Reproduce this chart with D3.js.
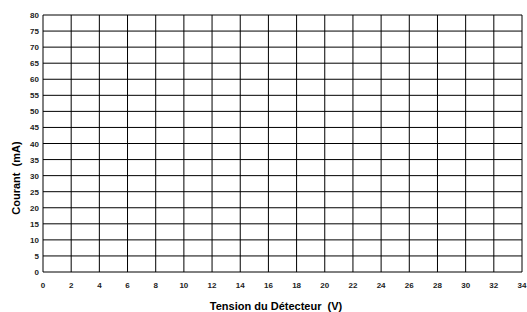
<!DOCTYPE html>
<html>
<head>
<meta charset="utf-8">
<script src="https://cdn.jsdelivr.net/npm/d3@7"></script>
<style>
  body { margin: 0; background: #fff; }
  text { font-family: "Liberation Sans", Arial, sans-serif; font-weight: bold; white-space: pre; }
</style>
</head>
<body>
<script>
// axis ranges and tick values
const xDomain = [0, 34];
const yDomain = [0, 80];
const xTicks = d3.range(0, 35, 2);
const yTicks = d3.range(0, 81, 5);
const xTitle = 'Tension du Détecteur  (V)';
const yTitle = 'Courant  (mA)';

const width = 527, height = 312;
const margin = {top: 15, right: 5, bottom: 40, left: 43};

const svg = d3.select('body').append('svg')
  .attr('width', width)
  .attr('height', height);

const x = d3.scaleLinear().domain(xDomain).range([margin.left, width - margin.right]);
const y = d3.scaleLinear().domain(yDomain).range([height - margin.bottom, margin.top]);

let grid = svg.append('g').attr('class', 'grid');

grid.selectAll('line.v')
  .data(xTicks)
  .join('line')
  .attr('class', 'v')
  .attr('x1', d => x(d)).attr('x2', d => x(d))
  .attr('y1', y(yDomain[0])).attr('y2', y(yDomain[1]))
  .attr('stroke', '#000')
  .attr('stroke-width', 1);

grid.selectAll('line.h')
  .data(yTicks)
  .join('line')
  .attr('class', 'h')
  .attr('x1', x(xDomain[0])).attr('x2', x(xDomain[1]))
  .attr('y1', d => y(d)).attr('y2', d => y(d))
  .attr('stroke', '#000')
  .attr('stroke-width', 1);

// tick labels
svg.append('g')
  .selectAll('text')
  .data(xTicks)
  .join('text')
  .attr('x', d => x(d))
  .attr('y', y(0) + 16)
  .attr('text-anchor', 'middle')
  .attr('font-size', 8)
  .attr('fill', '#222')
  .text(d => d);

svg.append('g')
  .selectAll('text')
  .data(yTicks)
  .join('text')
  .attr('x', margin.left - 4)
  .attr('y', d => y(d) + 3)
  .attr('text-anchor', 'end')
  .attr('font-size', 8)
  .attr('fill', '#222')
  .text(d => d);

// axis titles
svg.append('text')
  .attr('x', 276)
  .attr('y', 309.5)
  .attr('text-anchor', 'middle')
  .attr('font-size', 11)
  .text(xTitle);

svg.append('text')
  .attr('transform', 'translate(19.5,178) rotate(-90)')
  .attr('text-anchor', 'middle')
  .attr('font-size', 11)
  .text(yTitle);
</script>
</body>
</html>
